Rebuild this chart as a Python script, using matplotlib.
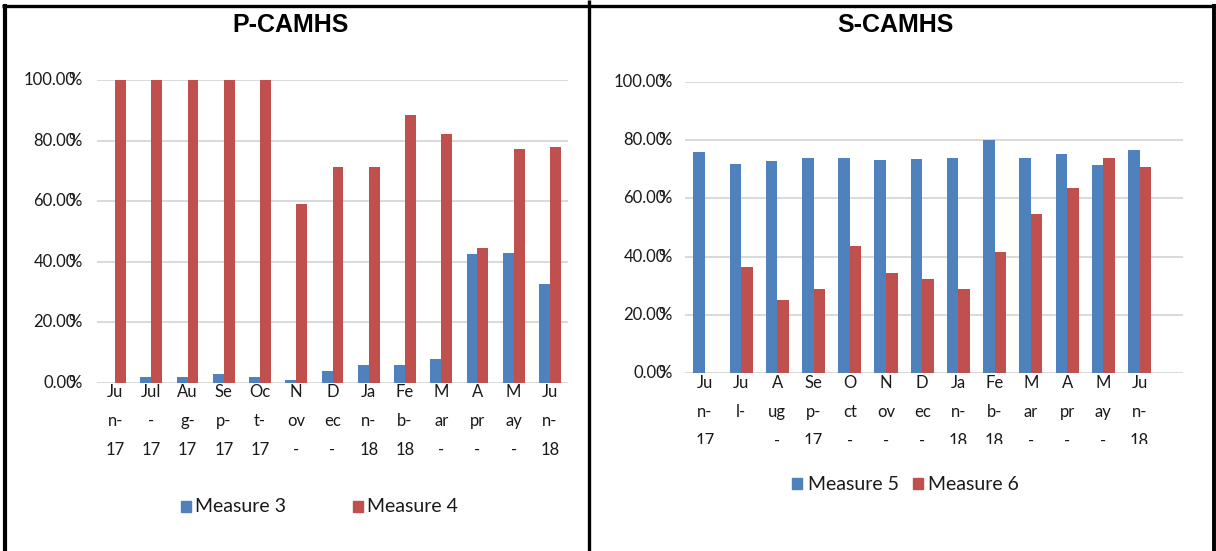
import matplotlib
matplotlib.use("Agg")
import matplotlib.pyplot as plt
from matplotlib.patches import Rectangle
from matplotlib.lines import Line2D
import numpy as np

W, H = 1216, 551

months = ["Jun-17", "Jul-17", "Aug-17", "Sep-17", "Oct-17", "Nov-17", "Dec-17",
          "Jan-18", "Feb-18", "Mar-18", "Apr-18", "May-18", "Jun-18"]

# P-CAMHS (fractions)
measure3 = [0.0, 0.02, 0.02, 0.03, 0.02, 0.01, 0.04, 0.06, 0.06, 0.08, 0.425, 0.43, 0.327]
measure4 = [1.0, 1.0, 1.0, 1.0, 1.0, 0.59, 0.713, 0.713, 0.884, 0.822, 0.446, 0.772, 0.779]

# S-CAMHS (fractions)
measure5 = [0.759, 0.718, 0.729, 0.739, 0.739, 0.732, 0.735, 0.739, 0.80, 0.739, 0.753, 0.715, 0.766]
measure6 = [0.0, 0.364, 0.251, 0.289, 0.436, 0.344, 0.323, 0.289, 0.416, 0.546, 0.636, 0.739, 0.708]

# Wrapped (and clipped) category labels as displayed
left_labels = [["Ju", "n-", "17"], ["Jul", "-", "17"], ["Au", "g-", "17"], ["Se", "p-", "17"],
               ["Oc", "t-", "17"], ["N", "ov", "-"], ["D", "ec", "-"], ["Ja", "n-", "18"],
               ["Fe", "b-", "18"], ["M", "ar", "-"], ["A", "pr", "-"], ["M", "ay", "-"],
               ["Ju", "n-", "18"]]
right_labels = [["Ju", "n-", "17"], ["Ju", "l-", ""], ["A", "ug", "-"], ["Se", "p-", "17"],
                ["O", "ct", "-"], ["N", "ov", "-"], ["D", "ec", "-"], ["Ja", "n-", "18"],
                ["Fe", "b-", "18"], ["M", "ar", "-"], ["A", "pr", "-"], ["M", "ay", "-"],
                ["Ju", "n-", "18"]]
ytick_vals = [0.0, 0.2, 0.4, 0.6, 0.8, 1.0]
ytick_text = ["0.00", "20.00", "40.00", "60.00", "80.00", "100.00"]

BLUE = "#4F81BD"
RED = "#C0504D"
GRID = "#D9D9D9"
TXT = "#1a1a1a"
TICKFONT = ["Lato", "DejaVu Sans"]

fig = plt.figure(figsize=(W / 100, H / 100), dpi=100)
fig.patch.set_facecolor("white")


def fx(x):
    return x / W


def fy(y):
    return 1 - y / H


def make_panel(x0, x1, ytop, ybot, s1, s2, names, labels, title, title_x,
               xlim, bw, lab_y, clip_y, ylab_right, legend_pos):
    ax = fig.add_axes([fx(x0), fy(ybot), fx(x1 - x0), (ybot - ytop) / H])
    ax.set_xlim(*xlim)
    ax.set_ylim(0, 1.0)
    ax.set_facecolor("none")
    for sp in ax.spines.values():
        sp.set_visible(False)
    ax.set_xticks([])
    ax.set_yticks([])
    for v in ytick_vals:
        ax.axhline(v, color=GRID, lw=1.4, zorder=0)
    x = np.arange(len(s1))
    ax.bar(x - bw / 2, s1, width=bw, color=BLUE, zorder=2)
    ax.bar(x + bw / 2, s2, width=bw, color=RED, zorder=2)

    # y tick labels (overlapping "0%" as rendered in the source)
    for v, t in zip(ytick_vals, ytick_text):
        yd = ax.transData.transform((0, v))[1]
        yf = yd / H
        fig.text(fx(ylab_right - 6), yf, t, ha="right", va="center",
                 fontsize=12, color=TXT, family=TICKFONT)
        fig.text(fx(ylab_right), yf, "%", ha="right", va="center",
                 fontsize=12, color=TXT, family=TICKFONT)

    # category labels, wrapped, clipped at the bottom
    clip = matplotlib.transforms.Bbox.from_extents(0, H - clip_y, W, H)
    for i, lines in enumerate(labels):
        xd = ax.transData.transform((i, 0))[0]
        for k, s in enumerate(lines):
            if not s:
                continue
            t = fig.text(xd / W, fy(lab_y + 29 * k), s, ha="center", va="center",
                         fontsize=12, color=TXT, family=TICKFONT)
            t.set_clip_box(clip)
            t.set_clip_on(True)

    fig.text(fx(title_x), fy(25), title, ha="center", va="center",
             fontsize=18, fontweight="bold", family="Liberation Sans", color="black")

    # legend
    (bx1, tx1, bx2, tx2, ly) = legend_pos
    for bx, tx, col, name in [(bx1, tx1, BLUE, names[0]), (bx2, tx2, RED, names[1])]:
        fig.add_artist(Rectangle((fx(bx), fy(ly + 5)), 10 / W, 11 / H,
                                 transform=fig.transFigure, color=col))
        fig.text(fx(tx), fy(ly), name, ha="left", va="center", fontsize=14,
                 color=TXT, family=TICKFONT)
    return ax


make_panel(97, 568, 80, 383, measure3, measure4, ["Measure 3", "Measure 4"],
           left_labels, "P-CAMHS", 291, (-0.5, 12.5), 0.30, 392, 455, 82,
           (181, 195, 353, 367, 507))
make_panel(685, 1183, 82, 373, measure5, measure6, ["Measure 5", "Measure 6"],
           right_labels, "S-CAMHS", 895, (-0.55, 13.2), 0.32, 383, 444, 672,
           (792, 808, 913, 928, 484))

# panel borders
def hline(y, xa, xb, lw):
    fig.add_artist(Line2D([fx(xa), fx(xb)], [fy(y), fy(y)], transform=fig.transFigure,
                          color="black", lw=lw, solid_capstyle="butt"))


def vline(x, ya, yb, lw):
    fig.add_artist(Line2D([fx(x), fx(x)], [fy(ya), fy(yb)], transform=fig.transFigure,
                          color="black", lw=lw, solid_capstyle="butt"))


hline(5.5, 2, 1216, 2.4)
vline(5, 4, 551, 3.0)
vline(589, 0, 551, 2.4)
vline(1214, 4, 551, 2.8)

fig.savefig("out.png", dpi=100, facecolor="white")
